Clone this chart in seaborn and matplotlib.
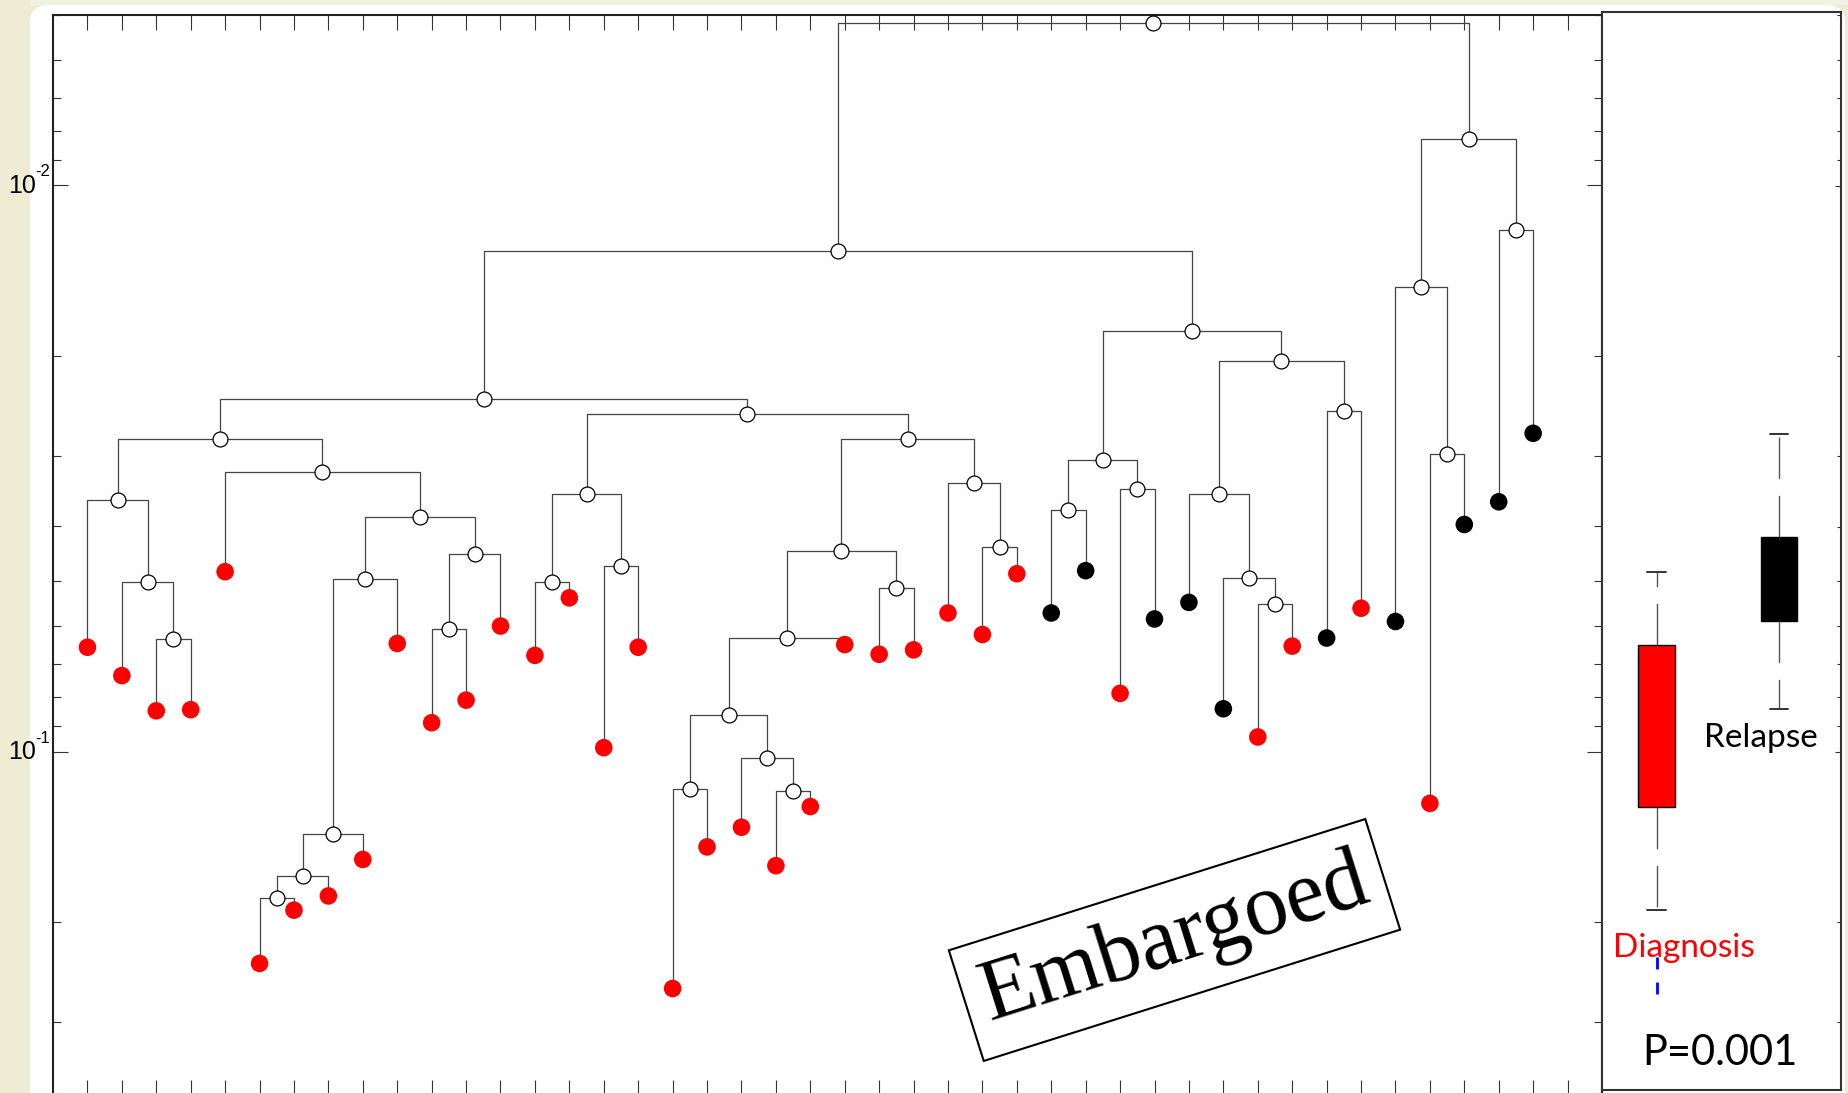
import numpy as np
import pandas as pd
import matplotlib
matplotlib.use("Agg")
import matplotlib.pyplot as plt
import seaborn as sns
from matplotlib.patches import FancyBboxPatch, Rectangle
from matplotlib.transforms import IdentityTransform
from matplotlib.ticker import FixedLocator, LogLocator, NullFormatter

# heights of the 43 samples, left to right
leaf_values = [
    0.0654, 0.0734, 0.0847, 0.0843, 0.0481, 0.2366, 0.1905, 0.1798, 0.1550, 0.0644,
    0.0889, 0.0811, 0.0600, 0.0676, 0.0535, 0.0984, 0.0654, 0.2620, 0.1473, 0.1360,
    0.1590, 0.1250, 0.0647, 0.0673, 0.0661, 0.0569, 0.0621, 0.0485, 0.0569, 0.0479,
    0.0789, 0.0583, 0.0545, 0.0840, 0.0942, 0.0651, 0.0630, 0.0558, 0.0589, 0.1234,
    0.0397, 0.0362, 0.0274,
]
# D = diagnosis (red dot), R = relapse (black dot)
leaf_codes = list("DDDDDDDDDDDDDDDDDDDDDDDDDDDDRRDRRRDDRDRDRRR")

# merges like a scipy linkage: ids < 43 are leaves, 43+k is the k-th merge
merge_left = [2, 1, 0, 5, 46, 47, 48, 10, 50, 49, 4, 45, 13, 15, 55, 17, 20, 19, 58, 61,
              23, 62, 26, 25, 64, 57, 54, 28, 30, 70, 34, 33, 32, 36, 75, 72, 69, 39, 38, 41,
              81, 79]
merge_right = [3, 43, 44, 6, 7, 8, 9, 11, 12, 51, 52, 53, 14, 16, 56, 18, 21, 59, 60, 22,
               24, 63, 27, 65, 66, 67, 68, 29, 31, 71, 35, 73, 74, 37, 76, 77, 78, 40, 80, 42,
               82, 83]
merge_height = [0.0632, 0.0502, 0.0360, 0.1815, 0.1660, 0.1397, 0.0496, 0.0608, 0.0448, 0.0385,
                0.0321, 0.0280, 0.0502, 0.0470, 0.0351, 0.1164, 0.1175, 0.1026, 0.0863, 0.0630,
                0.0514, 0.0443, 0.0435, 0.0336, 0.0280, 0.0253, 0.0238, 0.0375, 0.0344, 0.0306,
                0.0548, 0.0493, 0.0351, 0.0250, 0.0204, 0.0181, 0.01305, 0.0298, 0.0151, 0.01197,
                0.00828, 0.00517]

group_order = ["Diagnosis", "Relapse"]
group_colors = ["#ff0000", "#000000"]
code_names = {"D": "Diagnosis", "R": "Relapse"}
y_ticks = [0.01, 0.1]
y_tick_base = ["10", "10"]
y_tick_exp = ["-2", "-1"]
p_text = "P=0.001"

sns.set_style("white")
plt.rcParams["font.family"] = ["Liberation Sans", "DejaVu Sans"]

W, H = 1849, 1093
fig = plt.figure(figsize=(W / 100, H / 100), dpi=100, facecolor="#eeecd2")
# slide background: white page with rounded corner over a beige strip
fig.add_artist(Rectangle((30, H - 5), W - 30, 5, transform=IdentityTransform(),
                         fc="#f1f3e2", ec="none", zorder=-6))
fig.add_artist(FancyBboxPatch((30, -20), 1815, 1108, boxstyle="round,pad=0,rounding_size=18",
                              transform=IdentityTransform(), fc="white", ec="none", zorder=-5))

df = pd.DataFrame({"x": np.arange(1, len(leaf_values) + 1), "value": leaf_values,
                   "group": [code_names[c] for c in leaf_codes]})

# dendrogram coordinates
xpos = {i: i + 1.0 for i in range(len(leaf_values))}
ypos = {i: v for i, v in enumerate(leaf_values)}
segs = []
for k, (a, b, h) in enumerate(zip(merge_left, merge_right, merge_height)):
    nid = len(leaf_values) + k
    xpos[nid] = (xpos[a] + xpos[b]) / 2
    ypos[nid] = h
    segs.append(([xpos[a], xpos[a], xpos[b], xpos[b]], [ypos[a], h, h, ypos[b]]))
nodes = pd.DataFrame({"x": [xpos[len(leaf_values) + k] for k in range(len(merge_height))],
                      "value": merge_height})

ax = fig.add_axes([53 / W, -2 / H, (1602 - 53) / W, 1080 / H])
ax.set_facecolor("white")
ax.set_yscale("log")
for sx, sy in segs:
    ax.plot(sx, sy, color="#444444", lw=0.9, zorder=1, solid_capstyle="butt")
sns.scatterplot(data=nodes, x="x", y="value", color="white", edgecolor="black", linewidth=0.9,
                s=115, zorder=3, ax=ax, clip_on=False)
sns.scatterplot(data=df, x="x", y="value", hue="group", hue_order=group_order,
                palette=dict(zip(group_order, group_colors)), edgecolor="none", s=160,
                zorder=3, legend=False, ax=ax)
ax.set_xlim(0, 45)
ax.set_ylim(0.404, 0.005)
ax.set_xlabel("")
ax.set_ylabel("")
ax.set_xticks(np.arange(1, 45))
ax.yaxis.set_major_locator(FixedLocator(y_ticks))
ax.yaxis.set_major_formatter(NullFormatter())
ax.yaxis.set_minor_locator(LogLocator(base=10, subs=np.arange(2, 10)))
ax.yaxis.set_minor_formatter(NullFormatter())
ax.tick_params(axis="x", which="both", top=True, bottom=True, direction="in", length=11,
               width=0.8, color="#333333", labelbottom=False)
ax.tick_params(axis="y", which="major", left=True, right=True, direction="in", length=11,
               width=0.8, color="#333333")
ax.tick_params(axis="y", which="minor", left=True, right=True, direction="in", length=6,
               width=0.8, color="#333333")
for side in ["left", "top", "right", "bottom"]:
    ax.spines[side].set_color("#222222")
    ax.spines[side].set_linewidth(1.5)
# y labels "10" with raised exponent, anchored to the log scale
ytrans = ax.get_yaxis_transform()
for v, base, ex in zip(y_ticks, y_tick_base, y_tick_exp):
    ax.annotate(base, xy=(0, v), xycoords=ytrans, xytext=(-12.5, -5.6), textcoords="offset points",
                ha="right", va="baseline", fontsize=18, color="black", annotation_clip=False)
    ax.annotate(ex, xy=(0, v), xycoords=ytrans, xytext=(-12.8, 6.5), textcoords="offset points",
                ha="left", va="baseline", fontsize=12, color="black", annotation_clip=False)

# right-hand box plot panel
axb = fig.add_axes([1602 / W, 3 / H, (1841 - 1602) / W, 1078 / H])
axb.set_facecolor("white")
sns.boxplot(data=df, x="group", y="value", hue="group", order=group_order, hue_order=group_order,
            palette=dict(zip(group_order, group_colors)), saturation=1, width=0.3, whis=1.5,
            linecolor="black", linewidth=1.0, legend=False, ax=axb,
            medianprops=dict(linewidth=0),
            whiskerprops=dict(color="#555555", linestyle=(0, (30, 12))),
            capprops=dict(color="#333333", linewidth=1.4),
            flierprops=dict(marker="|", markeredgecolor="blue", markersize=9, markeredgewidth=2))
axb.set_yscale("log")
axb.set_ylim(0.396, 0.00493)
axb.set_xlim(-0.445, 1.506)
axb.set_xticks([])
axb.set_xlabel("")
axb.set_ylabel("")
axb.yaxis.tick_right()
axb.yaxis.set_major_locator(FixedLocator(y_ticks))
axb.yaxis.set_minor_locator(LogLocator(base=10, subs=np.arange(2, 10)))
axb.yaxis.set_major_formatter(NullFormatter())
axb.yaxis.set_minor_formatter(NullFormatter())
axb.tick_params(axis="y", which="major", direction="in", length=4, width=0.8, color="#333333")
axb.tick_params(axis="y", which="minor", direction="in", length=3, width=0.8, color="#333333")
for side in ["left", "top", "right", "bottom"]:
    axb.spines[side].set_color("#333333")
    axb.spines[side].set_linewidth(1.5)

fig.text(1684 / W, 1 - 948 / H, group_order[0], color=group_colors[0], fontsize=24,
         family="Lato", ha="center", va="center")
fig.text(1761 / W, 1 - 738 / H, group_order[1], color=group_colors[1], fontsize=24,
         family="Lato", ha="center", va="center")
fig.text(1720 / W, 1 - 1053 / H, p_text, color="black", fontsize=30,
         family="Lato", ha="center", va="center")

fig.text(1174.5 / W, 1 - 940 / H, "Embargoed", fontsize=63, family="Liberation Serif",
         color="black", rotation=17.5, rotation_mode="anchor", ha="center", va="center",
         zorder=10, bbox=dict(boxstyle="square,pad=0.2", fc="none", ec="black", lw=1.5))

fig.savefig("out.png", dpi=100, facecolor=fig.get_facecolor())
